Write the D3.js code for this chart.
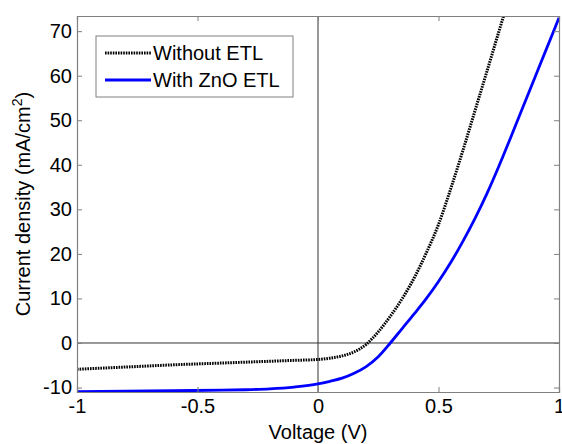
<!DOCTYPE html>
<html>
<head>
<meta charset="utf-8">
<script src="https://cdn.jsdelivr.net/npm/d3@7"></script>
<style>
  body { margin: 0; background: #fff; }
  svg { font-family: "Liberation Sans", Arial, sans-serif; }
</style>
</head>
<body>
<div id="chart"></div>
<script>
const width = 562,
  height = 444;

// data
const voltageNoEtl = [-1, -0.8, -0.6, -0.4, -0.3, -0.2, -0.1, 0, 0.05, 0.1, 0.15, 0.2, 0.25, 0.3, 0.35, 0.4, 0.45, 0.5, 0.55, 0.6, 0.65, 0.7, 0.75, 0.77];
const withoutEtl = [-5.9, -5.4, -4.9, -4.5, -4.3, -4.1, -3.9, -3.7, -3.4, -2.9, -2.0, -0.3, 2.5, 6.0, 10.0, 14.7, 20.3, 26.6, 34.5, 43.0, 51.9, 60.8, 69.8, 73.4];
const voltageZno = [-1, -0.8, -0.6, -0.4, -0.3, -0.2, -0.1, 0, 0.05, 0.1, 0.15, 0.2, 0.25, 0.3, 0.35, 0.4, 0.45, 0.5, 0.55, 0.6, 0.65, 0.7, 0.75, 0.8, 0.85, 0.9, 0.95, 1.0];
const withZno = [-10.9, -10.8, -10.7, -10.6, -10.5, -10.3, -9.9, -9.2, -8.6, -7.9, -6.8, -5.3, -3.1, 0.0, 3.3, 6.6, 10.0, 13.8, 18.0, 22.7, 27.8, 33.4, 39.6, 46.2, 52.9, 59.6, 66.3, 73.0];
const xTicks = [-1, -0.5, 0, 0.5, 1];
const yTicks = [-10, 0, 10, 20, 30, 40, 50, 60, 70];
const seriesNames = ["Without ETL", "With ZnO ETL"];

const margin = {top: 16, right: 3, bottom: 52, left: 77};
const plotW = width - margin.left - margin.right,
  plotH = height - margin.top - margin.bottom;

const svg = d3.select("#chart")
  .append("svg")
  .attr("width", width)
  .attr("height", height);

const g = svg.append("g")
  .attr("transform", `translate(${margin.left},${margin.top})`);

const x = d3.scaleLinear().domain([-1, 1]).range([0, plotW]);
const y = d3.scaleLinear().domain([-11, 73.4]).range([plotH, 0]);

g.append("clipPath").attr("id", "clip")
  .append("rect").attr("width", plotW).attr("height", plotH);

// zero lines
g.append("line")
  .attr("x1", 0).attr("x2", plotW)
  .attr("y1", y(0)).attr("y2", y(0))
  .attr("stroke", "#333").attr("stroke-width", 1);
g.append("line")
  .attr("x1", x(0)).attr("x2", x(0))
  .attr("y1", 0).attr("y2", plotH)
  .attr("stroke", "#333").attr("stroke-width", 1);

// curves
const lineFor = vs => d3.line()
  .x((d, i) => x(vs[i]))
  .y(d => y(d))
  .curve(d3.curveMonotoneX);

const curves = g.append("g").attr("clip-path", "url(#clip)");
curves.append("path")
  .datum(withZno)
  .attr("d", lineFor(voltageZno))
  .attr("fill", "none")
  .attr("stroke", "#0000ff")
  .attr("stroke-width", 2.8);
curves.append("path")
  .datum(withoutEtl)
  .attr("d", lineFor(voltageNoEtl))
  .attr("fill", "none")
  .attr("stroke", "#000")
  .attr("stroke-width", 3)
  .attr("stroke-dasharray", "1.6,1");

// axes with inward ticks, box style (plain hyphen for negatives, like matlab)
const axisColor = "#808080";
const tickLen = 5;
const fmt = d => String(d);

const axBottom = g.append("g").attr("transform", `translate(0,${plotH})`)
  .call(d3.axisBottom(x).tickValues(xTicks).tickSize(-tickLen).tickPadding(7).tickFormat(fmt));
const axTop = g.append("g")
  .call(d3.axisTop(x).tickValues(xTicks).tickSize(-tickLen).tickFormat(""));
const axLeft = g.append("g")
  .call(d3.axisLeft(y).tickValues(yTicks).tickSize(-tickLen).tickPadding(5).tickFormat(fmt));
const axRight = g.append("g").attr("transform", `translate(${plotW},0)`)
  .call(d3.axisRight(y).tickValues(yTicks).tickSize(-tickLen).tickFormat(""));

[axBottom, axTop, axLeft, axRight].forEach(a => {
  a.select(".domain").attr("stroke", axisColor).attr("stroke-width", 1.2);
  a.selectAll(".tick line").attr("stroke", axisColor);
  a.selectAll(".tick text")
    .attr("fill", "#000")
    .style("font-size", "20px")
    .style("font-family", "'Liberation Sans', Arial, sans-serif");
});

// axis labels
svg.append("text")
  .attr("x", margin.left + x(0))
  .attr("y", 439)
  .attr("text-anchor", "middle")
  .style("font-size", "20px")
  .text("Voltage (V)");

const yl = svg.append("text")
  .attr("transform", `translate(30,${margin.top + plotH / 2}) rotate(-90)`)
  .attr("text-anchor", "middle")
  .style("font-size", "20px");
yl.append("tspan").text("Current density (mA/cm");
yl.append("tspan").attr("dy", "-8").style("font-size", "14px").text("2");
yl.append("tspan").attr("dy", "8").text(")");

// legend
const legend = svg.append("g").attr("transform", "translate(96,36)");
legend.append("rect")
  .attr("width", 197).attr("height", 61)
  .attr("fill", "#fff")
  .attr("stroke", axisColor).attr("stroke-width", 1);
const legendStyles = [
  {stroke: "#000", dash: "1.6,1", w: 3},
  {stroke: "#0000ff", dash: null, w: 2.8}
];
seriesNames.forEach((name, i) => {
  const row = legend.append("g").attr("transform", `translate(0,${17 + i * 27})`);
  row.append("line")
    .attr("x1", 9).attr("x2", 55)
    .attr("stroke", legendStyles[i].stroke)
    .attr("stroke-width", legendStyles[i].w)
    .attr("stroke-dasharray", legendStyles[i].dash);
  row.append("text")
    .attr("x", 57).attr("y", 0).attr("dy", "0.35em")
    .style("font-size", "20px")
    .text(name);
});
</script>
</body>
</html>
